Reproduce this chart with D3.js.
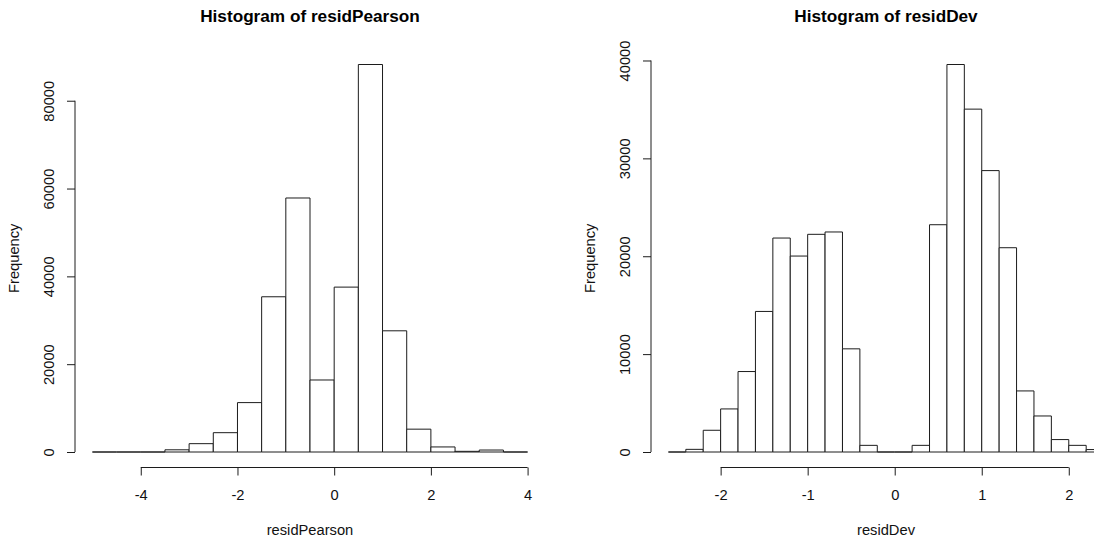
<!DOCTYPE html>
<html>
<head>
<meta charset="utf-8">
<script src="https://cdn.jsdelivr.net/npm/d3@7"></script>
<style>
    body { margin: 0; background: #fff; }
    svg { display: block; font-family: "Liberation Sans", Arial, sans-serif; }
</style>
</head>
<body>
<div id="chart"></div>
<script>
// bin edges and counts
const pearsonBreaks = [-5, -4.5, -4, -3.5, -3, -2.5, -2, -1.5, -1, -0.5, 0, 0.5, 1, 1.5, 2, 2.5, 3, 3.5, 4];
const pearsonCounts = [0, 0, 0, 500, 1900, 4400, 11250, 35350, 57850, 16400, 37550, 88250, 27600, 5200, 1150, 150, 450, 0];
const pearsonXTicks = [-4, -2, 0, 2, 4];
const pearsonYTicks = [0, 20000, 40000, 60000, 80000];

const devBreaks = [-2.6, -2.4, -2.2, -2.0, -1.8, -1.6, -1.4, -1.2, -1.0, -0.8, -0.6, -0.4, -0.2, 0, 0.2, 0.4, 0.6, 0.8, 1.0, 1.2, 1.4, 1.6, 1.8, 2.0, 2.2, 2.4];
const devCounts = [0, 270, 2220, 4400, 8220, 14360, 21860, 20020, 22240, 22480, 10540, 680, 0, 0, 680, 23220, 39590, 35030, 28750, 20870, 6240, 3680, 1270, 680, 250];
const devXTicks = [-2, -1, 0, 1, 2];
const devYTicks = [0, 10000, 20000, 30000, 40000];

const width = 1094, height = 540;
const ink = "#1c1c1c";

const svg = d3.select("#chart").append("svg")
    .attr("width", width)
    .attr("height", height);

const drawHist = (left, breaks, counts, xTicks, yTicks, title, xLabel) => {
    const plotW = 470, top = 49, bottom = 467.5;
    const bins = counts.map((c, i) => ({ x0: breaks[i], x1: breaks[i + 1], count: c }));

    const xMin = breaks[0], xMax = breaks[breaks.length - 1];
    const xPad = (xMax - xMin) * 0.04;
    const x = d3.scaleLinear().domain([xMin - xPad, xMax + xPad]).range([left, left + plotW]);

    const yMax = d3.max(counts);
    const y = d3.scaleLinear().domain([-yMax * 0.04, yMax * 1.04]).range([bottom, top]);

    const g = svg.append("g");

    // bars as paths so empty bins still show as a line on the baseline
    g.selectAll(".bar")
        .data(bins)
        .enter().append("path")
        .attr("class", "bar")
        .attr("d", d => `M${x(d.x0)},${y(0)}V${y(d.count)}H${x(d.x1)}V${y(0)}Z`)
        .attr("fill", "#fff")
        .attr("stroke", ink)
        .attr("stroke-width", 1);

    const xAxis = g.append("g")
        .attr("transform", `translate(0,${bottom})`)
        .call(d3.axisBottom(x).tickValues(xTicks).tickSize(8).tickFormat(d3.format("d")));
    xAxis.select(".domain").remove();
    xAxis.append("line")
        .attr("x1", x(xTicks[0]))
        .attr("x2", x(xTicks[xTicks.length - 1]))
        .attr("stroke", ink);
    xAxis.selectAll(".tick line").attr("stroke", ink);
    xAxis.selectAll(".tick text")
        .attr("y", 32)
        .attr("dy", 0)
        .style("font-size", "14.7px")
        .style("fill", "#111")
        .text(d => d < 0 ? "-" + Math.abs(d) : d);

    const yAxis = g.append("g")
        .attr("transform", `translate(${left},0)`)
        .call(d3.axisLeft(y).tickValues(yTicks).tickSize(8).tickFormat(d3.format("d")));
    yAxis.select(".domain").remove();
    yAxis.append("line")
        .attr("y1", y(yTicks[0]))
        .attr("y2", y(yTicks[yTicks.length - 1]))
        .attr("stroke", ink);
    yAxis.selectAll(".tick line").attr("stroke", ink);
    yAxis.selectAll(".tick text")
        .attr("x", null)
        .attr("dy", null)
        .attr("transform", "translate(-21,0) rotate(-90)")
        .style("text-anchor", "middle")
        .style("font-size", "14.7px")
        .style("fill", "#111");

    const midX = left + plotW / 2;

    svg.append("text")
        .attr("x", midX)
        .attr("y", 21.5)
        .style("text-anchor", "middle")
        .style("font-weight", "bold")
        .style("font-size", "17.2px")
        .style("fill", "#000")
        .text(title);

    svg.append("text")
        .attr("x", midX)
        .attr("y", 535)
        .style("text-anchor", "middle")
        .style("font-size", "14.7px")
        .style("fill", "#111")
        .text(xLabel);

    svg.append("text")
        .attr("transform", `translate(${left - 56},${(top + bottom) / 2}) rotate(-90)`)
        .style("text-anchor", "middle")
        .style("font-size", "14.7px")
        .style("fill", "#111")
        .text("Frequency");
};

drawHist(75, pearsonBreaks, pearsonCounts, pearsonXTicks, pearsonYTicks, "Histogram of residPearson", "residPearson");
drawHist(651, devBreaks, devCounts, devXTicks, devYTicks, "Histogram of residDev", "residDev");
</script>
</body>
</html>
